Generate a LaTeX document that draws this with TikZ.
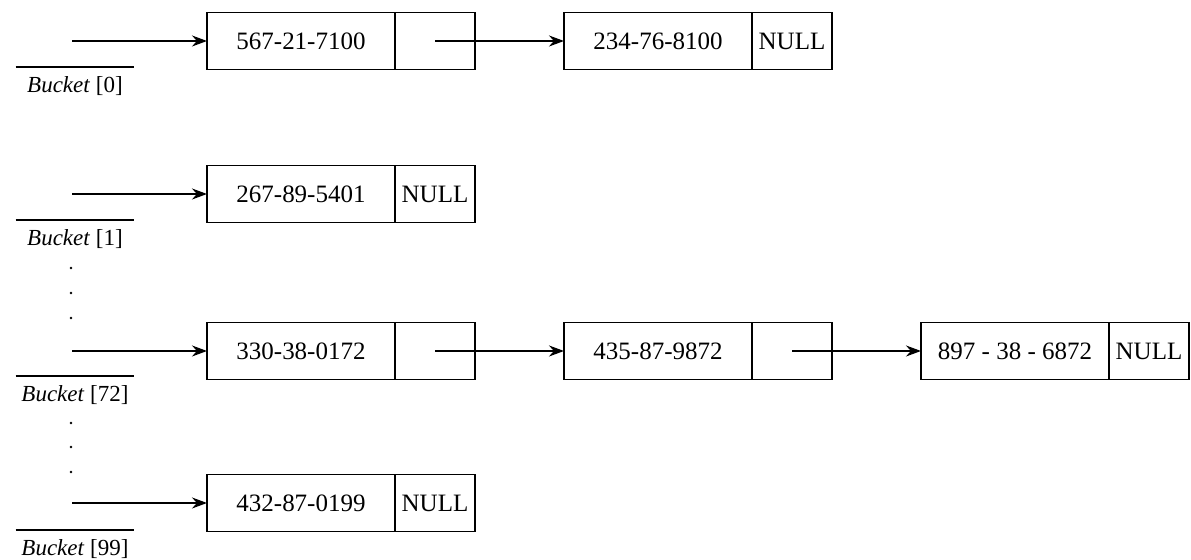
\documentclass[tikz,border=0pt]{standalone}
\usepackage{fontspec}
\setmainfont{Liberation Serif}
\usetikzlibrary{arrows.meta,positioning}

\begin{document}
\begin{tikzpicture}[x=0.5pt,y=-0.5pt,>={Stealth[length=7.5pt,width=5.5pt]},
  datacell/.style={draw,line width=0.8pt,minimum width=94pt,minimum height=28.5pt,inner sep=0pt,outer sep=0pt,font=\fontsize{12.5}{14}\selectfont},
  ptrcell/.style={datacell,minimum width=40pt},
  bucket/.style={anchor=north,minimum width=59pt,inner xsep=0pt,inner ysep=3.5pt,text height=9pt,text depth=3pt,font=\fontsize{11.5}{13}\selectfont},
  overbar/.style={line width=0.7pt},
  link/.style={->,line width=0.7pt}]
\useasboundingbox (0,0) rectangle (1191,560);
% bucket 0
\node[datacell] (d0a) at (301,41) {567-21-7100};
\node[ptrcell,right=0pt of d0a] (p0a) {};
\node[datacell,right=44.5pt of p0a] (d0b) {234-76-8100};
\node[ptrcell,right=0pt of d0b] (p0b) {NULL};
\coordinate[left=67.5pt of d0a.west] (e0);
\draw[link] (e0) -- (d0a.west);
\draw[link] (p0a.center) -- (d0b.west);
\node[bucket] (b0) at (75,67) {\textit{Bucket} [0]};
\draw[overbar] (b0.north west) -- (b0.north east);
% bucket 1
\node[datacell] (d1a) at (301,194) {267-89-5401};
\node[ptrcell,right=0pt of d1a] (p1a) {NULL};
\coordinate[left=67.5pt of d1a.west] (e1);
\draw[link] (e1) -- (d1a.west);
\node[bucket] (b1) at (75,220) {\textit{Bucket} [1]};
\draw[overbar] (b1.north west) -- (b1.north east);
% bucket 72
\node[datacell] (d72a) at (301,351) {330-38-0172};
\node[ptrcell,right=0pt of d72a] (p72a) {};
\node[datacell,right=44.5pt of p72a] (d72b) {435-87-9872};
\node[ptrcell,right=0pt of d72b] (p72b) {};
\node[datacell,right=44.5pt of p72b] (d72c) {897 - 38 - 6872};
\node[ptrcell,right=0pt of d72c] (p72c) {NULL};
\coordinate[left=67.5pt of d72a.west] (e72);
\draw[link] (e72) -- (d72a.west);
\draw[link] (p72a.center) -- (d72b.west);
\draw[link] (p72b.center) -- (d72c.west);
\node[bucket] (b72) at (75,376) {\textit{Bucket} [72]};
\draw[overbar] (b72.north west) -- (b72.north east);
% bucket 99
\node[datacell] (d99a) at (301,503) {432-87-0199};
\node[ptrcell,right=0pt of d99a] (p99a) {NULL};
\coordinate[left=67.5pt of d99a.west] (e99);
\draw[link] (e99) -- (d99a.west);
\node[bucket] (b99) at (75,530) {\textit{Bucket} [99]};
\draw[overbar] (b99.north west) -- (b99.north east);
% vertical ellipsis
\foreach \y in {268,293,318,423,447,472} \fill (71,\y) circle (0.7pt);
\end{tikzpicture}
\end{document}
